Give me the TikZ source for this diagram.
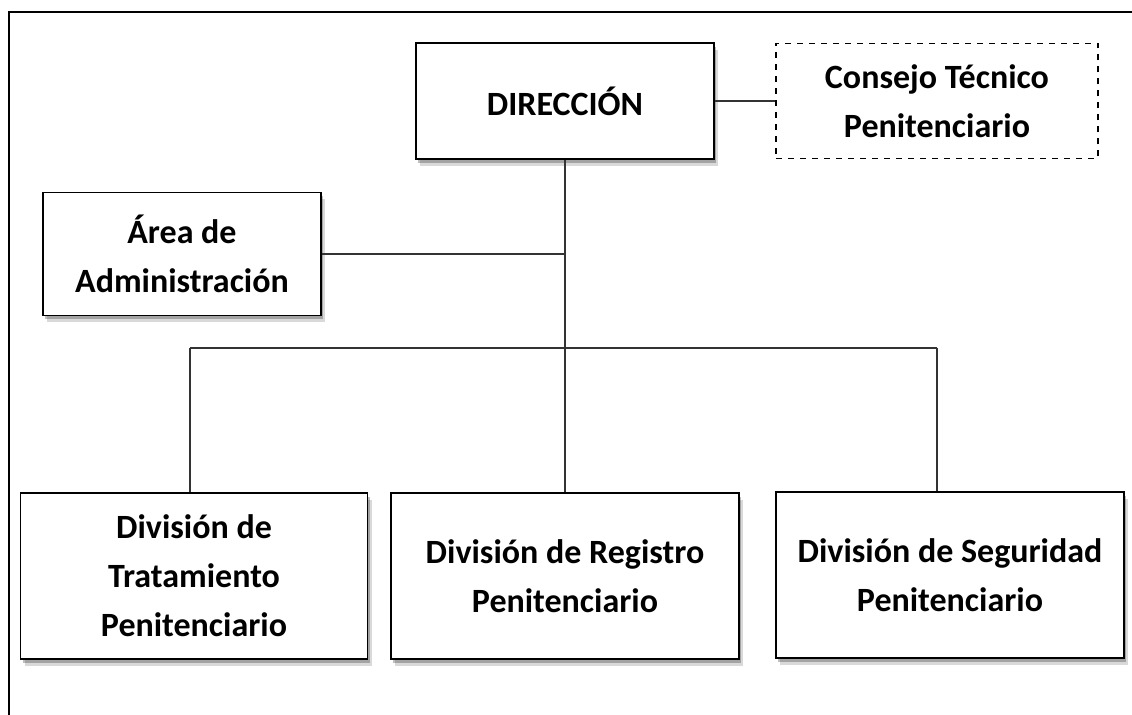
\documentclass[tikz,border=0pt]{standalone}
\usepackage{fontspec}
\setmainfont{Carlito}
\usetikzlibrary{shadows}
\tikzset{
    unit/.style = {draw, rectangle, line width=0.8pt, fill=white,
        align=center, font=\bfseries\fontsize{17}{24.5}\selectfont,
        drop shadow={shadow xshift=2pt, shadow yshift=-3.5pt, opacity=0.15, fill=black},
        drop shadow={shadow xshift=1.2pt, shadow yshift=-2pt, opacity=0.25, fill=black}},
    advisory/.style = {draw, rectangle, dashed, line width=0.6pt,
        align=center, font=\bfseries\fontsize{17}{24.5}\selectfont},
    link/.style = {draw, line width=0.8pt, color=black!80},
    frameline/.style = {draw, line width=1.1pt, color=black}
}
\begin{document}
\begin{tikzpicture}[x=0.5pt,y=-0.5pt]
                \useasboundingbox (0,0) rectangle (1132,715);
                % open frame of the page
                \draw[frameline] (1132,12) -- (9,12) -- (9,715);
                % boxes
                \node[unit, minimum width=149pt, minimum height=58pt] (direccion) at (565,101) {DIRECCIÓN};
                \node[advisory, minimum width=161pt, minimum height=57.5pt] (consejo) at (937,101) {Consejo Técnico\\Penitenciario};
                \node[unit, minimum width=139pt, minimum height=61.5pt] (admin) at (182,254) {Área de\\Administración};
                \node[unit, minimum width=173.5pt, minimum height=83pt] (tratamiento) at (194,576) {División de\\Tratamiento\\Penitenciario};
                \node[unit, minimum width=174pt, minimum height=83pt] (registro) at (565,576) {División de Registro\\Penitenciario};
                \node[unit, minimum width=174pt, minimum height=83pt] (seguridad) at (950,575) {División de Seguridad\\Penitenciario};
                % bus line to the divisions
                \coordinate (busL) at (190,348);
                \coordinate (busR) at (937,348);
                \draw[link] (direccion.east) -- (consejo.west);
                \draw[link] (direccion.south) -- (registro.north);
                \draw[link] (admin.east) -- (admin.east -| direccion.south);
                \draw[link] (busL) -- (busR);
                \draw[link] (busL) -- (busL |- tratamiento.north);
                \draw[link] (busR) -- (busR |- seguridad.north);
            \end{tikzpicture}
\end{document}
